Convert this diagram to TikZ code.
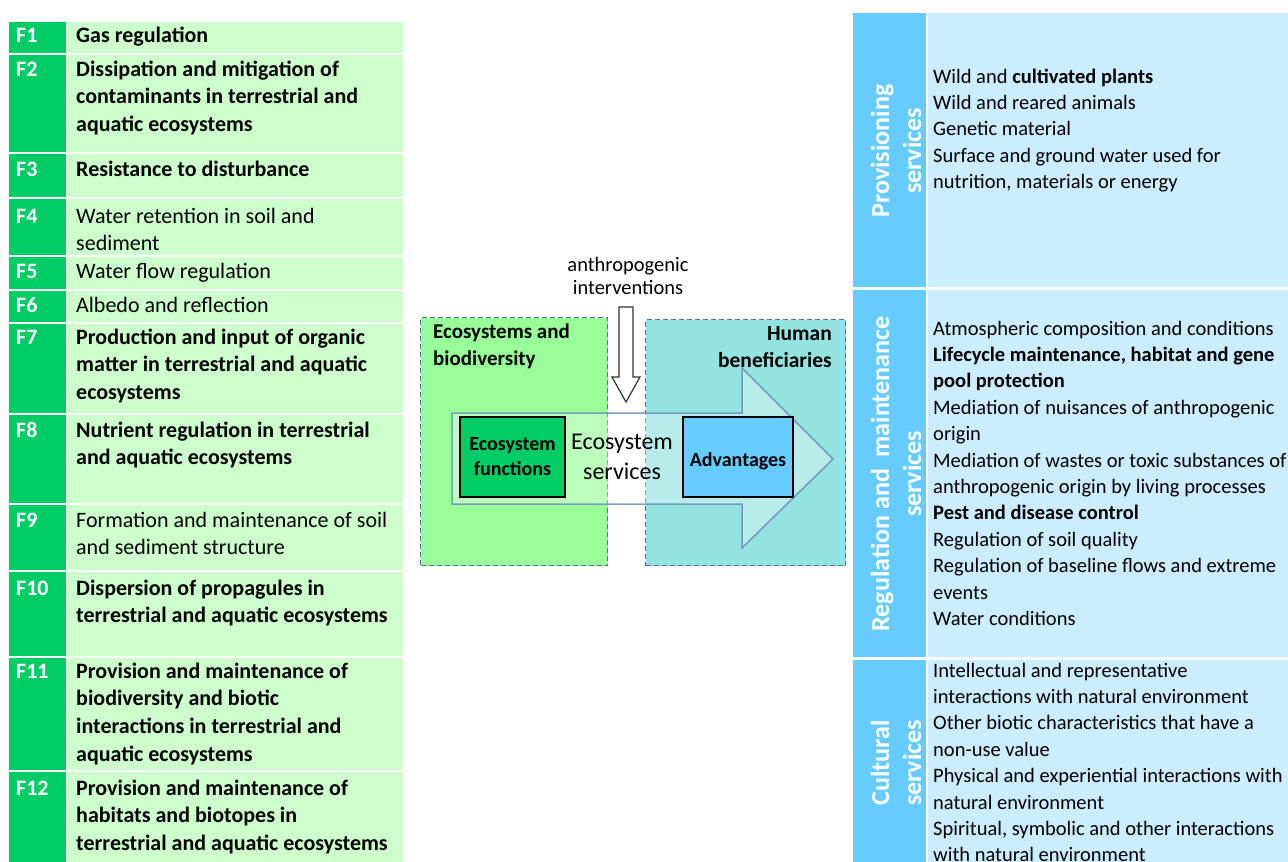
\documentclass[tikz,border=0pt]{standalone}
\usepackage{fontspec}
\setmainfont{Carlito}
\definecolor{dgreen}{RGB}{0,204,102}
\definecolor{lgreen}{RGB}{204,255,204}
\definecolor{dblue}{RGB}{102,204,255}
\definecolor{lblue}{RGB}{204,236,255}
\definecolor{boxgreen}{RGB}{153,255,153}
\definecolor{boxteal}{RGB}{147,227,224}
\definecolor{dashblue}{RGB}{70,112,165}
\definecolor{arrowblue}{RGB}{105,140,190}
\newcommand\mylines[2]{\parbox[t]{#1}{\raggedright #2}}
\newcommand\frow[2]{\fill[dgreen] (8.5,#1) rectangle (65.5,#2); \fill[lgreen] (66.5,#1) rectangle (403,#2);}
\newcommand\srow[2]{\fill[dblue] (853,#1) rectangle (926,#2); \fill[lblue] (928,#1) rectangle (1295,#2);}
\begin{document}
\begin{tikzpicture}[x=1pt,y=-1pt,
  ftag/.style={anchor=base west, inner sep=0, text=white, font=\fontsize{22}{27.8}\selectfont\bfseries},
  ftext/.style={anchor=base west, inner sep=0, font=\fontsize{22}{27.8}\selectfont},
  stext/.style={anchor=base west, inner sep=0, font=\fontsize{20.5}{26.4}\selectfont},
  slabel/.style={rotate=90, align=center, inner sep=0, text=white, font=\fontsize{26}{32}\selectfont\bfseries},
  zone/.style={draw=dashblue, dash pattern=on 5pt off 3pt, line width=1.4pt, anchor=north west, inner sep=0},
  inbox/.style={draw=black, line width=1.5pt, inner sep=0, align=center, font=\fontsize{20}{25}\selectfont\bfseries},
  bigarrow/.style={fill=white, fill opacity=0.35, draw=arrowblue, draw opacity=0.85, line width=1.5pt},
  downarrow/.style={fill=white, draw=black!80, line width=1.2pt},
]
\useasboundingbox (0,0) rectangle (1288,862);
\clip (0,0) rectangle (1288,862);
\fill[white] (0,0) rectangle (1288,862);

% ---------------- left table ----------------
\frow{22}{53}
\frow{55}{152}
\frow{154}{197}
\frow{199}{255}
\frow{257}{289}
\frow{291}{322}
\frow{324}{413}
\frow{415}{503}
\frow{505}{570}
\frow{572}{656}
\frow{658}{770}
\frow{772}{870}

\node[ftag] (l1) at (16,42) {F1};
\node[ftext] (t1) at (76,42) {\mylines{330pt}{\bfseries Gas regulation}};
\node[ftag] (l2) at (16,76) {F2};
\node[ftext] (t2) at (76,76) {\mylines{330pt}{\bfseries Dissipation and mitigation of\\contaminants in terrestrial and\\aquatic ecosystems}};
\node[ftag] (l3) at (16,176) {F3};
\node[ftext] (t3) at (76,176) {\mylines{330pt}{\bfseries Resistance to disturbance}};
\node[ftag] (l4) at (16,223) {F4};
\node[ftext] (t4) at (76,223) {\mylines{330pt}{Water retention in soil and\\sediment}};
\node[ftag] (l5) at (16,278) {F5};
\node[ftext] (t5) at (76,278) {\mylines{330pt}{Water flow regulation}};
\node[ftag] (l6) at (16,312) {F6};
\node[ftext] (t6) at (76,312) {\mylines{330pt}{Albedo and reflection}};
\node[ftag] (l7) at (16,344) {F7};
\node[ftext] (t7) at (76,344) {\mylines{330pt}{\bfseries Production and input of organic\\matter in terrestrial and aquatic\\ecosystems}};
\node[ftag] (l8) at (16,437) {F8};
\node[ftext] (t8) at (76,437) {\mylines{330pt}{\bfseries Nutrient regulation in terrestrial\\and aquatic ecosystems}};
\node[ftag] (l9) at (16,527) {F9};
\node[ftext] (t9) at (76,527) {\mylines{330pt}{Formation and maintenance of soil\\and sediment structure}};
\node[ftag] (l10) at (16,595) {F10};
\node[ftext] (t10) at (76,595) {\mylines{330pt}{\bfseries Dispersion of propagules in\\terrestrial and aquatic ecosystems}};
\node[ftag] (l11) at (16,678) {F11};
\node[ftext] (t11) at (76,678) {\mylines{330pt}{\bfseries Provision and maintenance of\\biodiversity and biotic\\interactions in terrestrial and\\aquatic ecosystems}};
\node[ftag] (l12) at (16,795) {F12};
\node[ftext] (t12) at (76,795) {\mylines{330pt}{\bfseries Provision and maintenance of\\habitats and biotopes in\\terrestrial and aquatic ecosystems}};

% ---------------- right table ----------------
\srow{13}{287}
\srow{290}{657}
\srow{660}{870}

\node[slabel] (lp) at (896,151) {Provisioning\\services};
\node[slabel] (lr) at (896,474) {Regulation and\ \ maintenance\\services};
\node[slabel] (lc) at (896,763) {Cultural\\services};

\node[stext] (sp) at (933,83) {\mylines{400pt}{Wild and \textbf{cultivated plants}\\Wild and reared animals\\Genetic material\\Surface and ground water used for\\nutrition, materials or energy}};
\node[stext] (sr) at (933,335) {\mylines{400pt}{Atmospheric composition and conditions\\\textbf{Lifecycle maintenance, habitat and gene}\\\textbf{pool protection}\\Mediation of nuisances of anthropogenic\\origin\\Mediation of wastes or toxic substances of\\anthropogenic origin by living processes\\\textbf{Pest and disease control}\\Regulation of soil quality\\Regulation of baseline flows and extreme\\events\\Water conditions}};
\node[stext] (sc) at (933,677) {\mylines{400pt}{Intellectual and representative\\interactions with natural environment\\Other biotic characteristics that have a\\non-use value\\Physical and experiential interactions with\\natural environment\\Spiritual, symbolic and other interactions\\with natural environment}};

% ---------------- middle diagram ----------------
\node[zone, fill=boxgreen, minimum width=187pt, minimum height=248pt] (eco) at (420,317) {};
\node[zone, fill=boxteal, minimum width=200pt, minimum height=246pt] (hum) at (645,319) {};

\node[anchor=base west, inner sep=0, font=\fontsize{21}{27}\selectfont\bfseries] (ecol) at (433,338) {\mylines{170pt}{Ecosystems and\\biodiversity}};
\node[anchor=base east, inner sep=0, font=\fontsize{21.5}{27}\selectfont\bfseries] (huml) at (832,340) {\parbox[t]{170pt}{\raggedleft Human\\beneficiaries}};

\path[bigarrow] (452,413) -- (742,413) -- (742,368) -- (833,459) -- (742,548) -- (742,504) -- (452,504) -- cycle;

\node[inbox, fill=dgreen, minimum width=105pt, minimum height=80pt] (ef) at (512.5,457) {Ecosystem\\functions};
\node[inbox, fill=dblue, minimum width=110pt, minimum height=80pt] (adv) at (738,457) {};
\node[anchor=base, inner sep=0, font=\fontsize{20}{25}\selectfont\bfseries] (advt) at (adv.center |- 0,466) {Advantages};
\node[align=center, inner sep=0, font=\fontsize{24}{30}\selectfont] (es) at (622,457) {Ecosystem\\services};

\node[anchor=base, inner sep=0, font=\fontsize{20.5}{23.5}\selectfont] (anth) at (628,271) {\parbox[t]{200pt}{\centering anthropogenic\\interventions}};
\draw[downarrow] (619,307) -- (633,307) -- (633,377) -- (640,377) -- (626,402) -- (612,377) -- (619,377) -- cycle;
\end{tikzpicture}
\end{document}
